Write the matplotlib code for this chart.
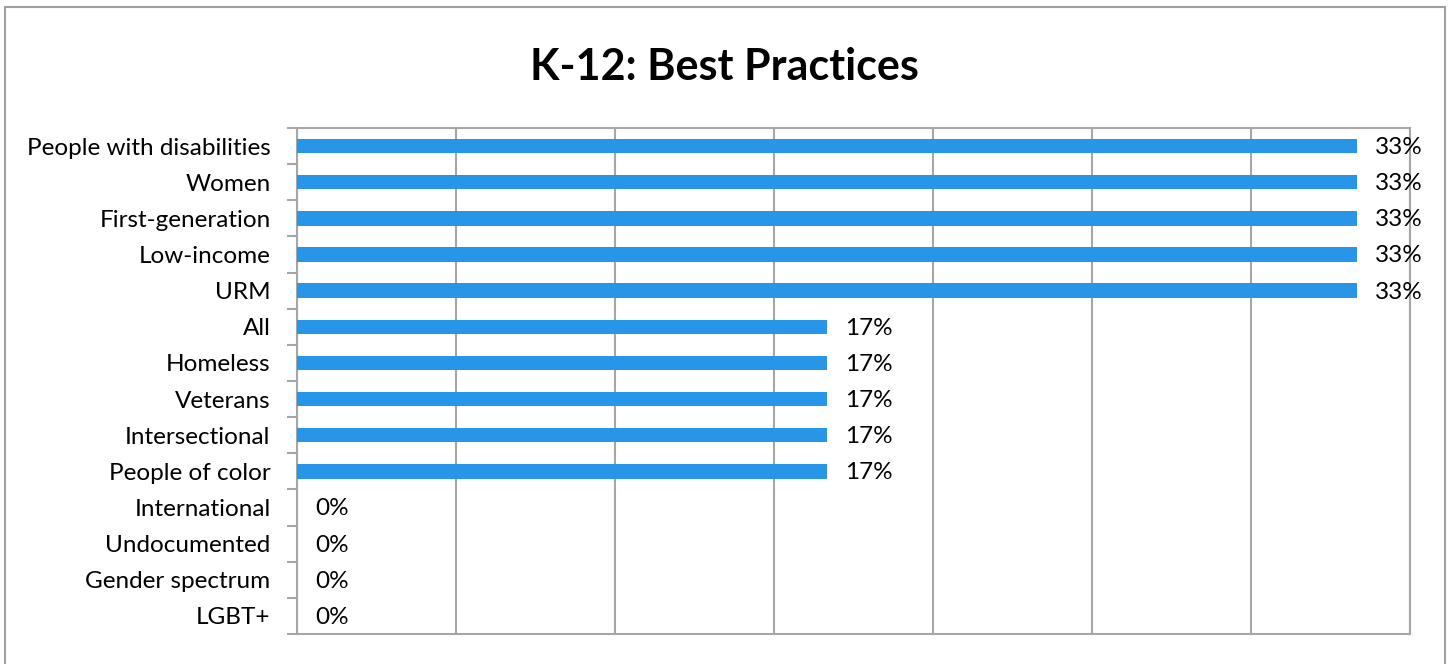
import matplotlib
matplotlib.use("Agg")
import matplotlib.pyplot as plt
from matplotlib.patches import Rectangle

categories = ["People with disabilities", "Women", "First-generation", "Low-income",
              "URM", "All", "Homeless", "Veterans", "Intersectional",
              "People of color", "International", "Undocumented",
              "Gender spectrum", "LGBT+"]
values = [1/3, 1/3, 1/3, 1/3, 1/3, 1/6, 1/6, 1/6, 1/6, 1/6, 0, 0, 0, 0]
labels = ["33%", "33%", "33%", "33%", "33%", "17%", "17%", "17%", "17%", "17%",
          "0%", "0%", "0%", "0%"]

plt.rcParams['font.family'] = ['Lato', 'DejaVu Sans']
W, H = 1450, 664
fig = plt.figure(figsize=(W/100, H/100), dpi=100)
ax = fig.add_axes([297/W, 1 - 634/H, (1410-297)/W, (634-128)/H])

grid_color = "#a6a6a6"
n = len(categories)
ypos = list(range(n))
ax.barh(ypos, values, height=0.4, color="#2896e8", zorder=3)
for y, v, lab in zip(ypos, values, labels):
    ax.annotate(lab, (v, y), xytext=(13, -1), textcoords="offset points",
                va="center", ha="left", fontsize=17.5, color="black")

ax.set_xlim(0, 0.35)
ax.set_ylim(n - 0.5, -0.5)
ax.set_xticks([i*0.05 for i in range(8)])
ax.set_xticklabels([])
ax.tick_params(axis="x", length=0)
ax.grid(axis="x", color=grid_color, linewidth=1.5, zorder=0)

ax.set_yticks(ypos)
ax.set_yticklabels(categories, fontsize=17.5)
ax.tick_params(axis="y", length=0, pad=19)
ax.set_yticks([i - 0.5 for i in range(n + 1)], minor=True)
ax.tick_params(axis="y", which="minor", length=7, width=1.5, color=grid_color)

for s in ax.spines.values():
    s.set_color(grid_color)
    s.set_linewidth(1.5)

fig.text((530+918)/2/W, 1 - 67/H, "K-12: Best Practices", ha="center",
         va="center", fontsize=31, fontweight="bold")

fig.patches.append(Rectangle((5/W, -0.1), (1445-5)/W, 1 - 7/H + 0.1,
                             transform=fig.transFigure, fill=False,
                             edgecolor="#a0a0a0", linewidth=1.5))

fig.savefig("out.png", dpi=100)
